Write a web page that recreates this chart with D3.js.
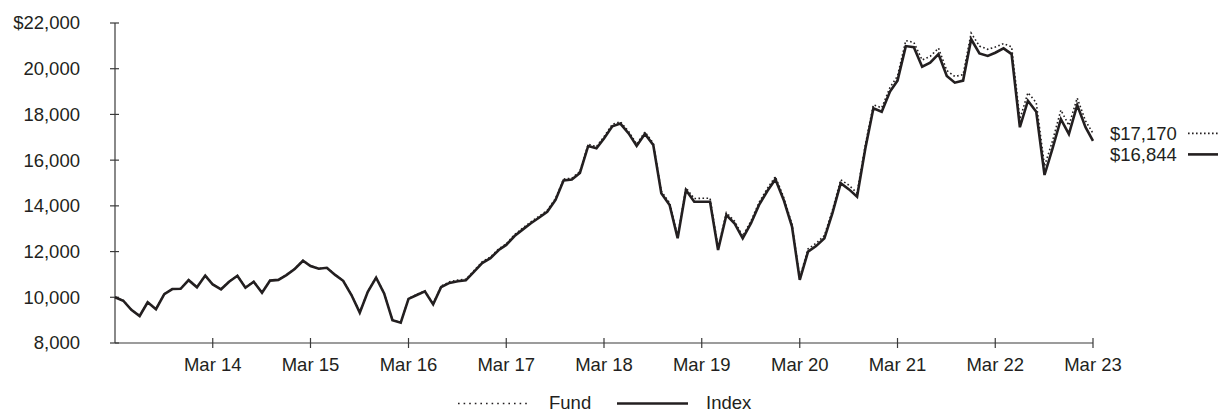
<!DOCTYPE html>
<html>
<head>
<meta charset="utf-8">
<script src="https://cdn.jsdelivr.net/npm/d3@7"></script>
<style>
  html, body { margin: 0; padding: 0; background: #fff; }
  svg text { font-family: "Liberation Sans", Arial, sans-serif; font-size: 18.5px; fill: #231f20; }
</style>
</head>
<body>
<svg id="chart" width="1219" height="413"></svg>
<script>
// ---- Data (monthly, Mar 2013 – Mar 2023) ----
const indexValues = [
  10000, 9850, 9450, 9180, 9780, 9480, 10140, 10360, 10370, 10750, 10440, 10950,
  10560, 10350, 10680, 10940, 10420, 10680, 10200, 10730, 10760, 10970, 11240, 11600,
  11370, 11250, 11290, 10980, 10720, 10100, 9330, 10240, 10860, 10170, 9000, 8890,
  9930, 10100, 10260, 9690, 10450, 10630, 10700, 10740, 11120, 11500, 11710, 12070,
  12290, 12680, 12960, 13240, 13480, 13740, 14260, 15110, 15150, 15440, 16620, 16520,
  16950, 17480, 17600, 17170, 16620, 17150, 16660, 14550, 14040, 12580, 14690, 14180,
  14180, 14180, 12070, 13600, 13240, 12580, 13240, 14040, 14650, 15160, 14260, 13090,
  10760, 12000, 12240, 12580, 13680, 14990, 14720, 14400, 16520, 18270, 18120, 19000,
  19480, 20990, 20940, 20090, 20260, 20640, 19680, 19390, 19480, 21290, 20670, 20560,
  20700, 20890, 20640, 17440, 18600, 18120, 15350, 16520, 17790, 17140, 18410, 17440,
  16844
];
const fundValues = [
  10000, 9860, 9460, 9190, 9790, 9490, 10150, 10370, 10380, 10760, 10450, 10960,
  10570, 10360, 10690, 10950, 10430, 10690, 10210, 10740, 10770, 10980, 11250, 11610,
  11380, 11260, 11300, 10990, 10730, 10110, 9340, 10250, 10870, 10180, 9010, 8900,
  9940, 10120, 10280, 9710, 10490, 10680, 10750, 10790, 11170, 11550, 11760, 12120,
  12340, 12740, 13020, 13300, 13540, 13800, 14320, 15170, 15210, 15500, 16690, 16590,
  17030, 17560, 17680, 17250, 16700, 17230, 16740, 14640, 14130, 12670, 14790, 14320,
  14330, 14330, 12170, 13700, 13340, 12680, 13340, 14150, 14760, 15280, 14370, 13200,
  10860, 12120, 12360, 12700, 13810, 15140, 14900, 14560, 16680, 18420, 18290, 19180,
  19680, 21230, 21150, 20380, 20540, 20900, 19920, 19660, 19740, 21560, 20990, 20850,
  20950, 21100, 20960, 17800, 18950, 18520, 15740, 16850, 18190, 17520, 18720, 17720,
  17170
];
const yTickValues = [8000, 10000, 12000, 14000, 16000, 18000, 20000, 22000];
const xTickYears = [2014, 2015, 2016, 2017, 2018, 2019, 2020, 2021, 2022, 2023];
const seriesNames = ["Fund", "Index"];
const endLabels = ["$17,170", "$16,844"];

(function () {
  const months = d3.utcMonth.range(new Date(Date.UTC(2013, 2, 1)), new Date(Date.UTC(2023, 2, 2)));
  const plotL = 115, plotR = 1093, plotT = 23, plotB = 343;
  const ink = "#231f20";
  const axisCol = "#3a3a3a";

  const svg = d3.select("#chart");
  const x = d3.scaleUtc().domain([months[0], months[months.length - 1]]).range([plotL, plotR]);
  const y = d3.scaleLinear().domain([8000, 22000]).range([plotB, plotT]);

  // Axis lines
  svg.append("line").attr("x1", plotL).attr("x2", plotL).attr("y1", plotT).attr("y2", plotB)
    .attr("stroke", axisCol).attr("stroke-width", 1.2);
  svg.append("line").attr("x1", plotL).attr("x2", plotR).attr("y1", plotB).attr("y2", plotB)
    .attr("stroke", axisCol).attr("stroke-width", 1.2);

  // Y ticks
  svg.selectAll(".ytick").data(yTickValues).enter().append("line")
    .attr("x1", plotL - 5).attr("x2", plotL + 4)
    .attr("y1", d => y(d)).attr("y2", d => y(d))
    .attr("stroke", axisCol).attr("stroke-width", 1.2);
  const fmt = d3.format(",");
  svg.selectAll(".ylabel").data(yTickValues).enter().append("text")
    .attr("x", 80).attr("y", d => y(d)).attr("dy", "0.35em")
    .attr("text-anchor", "end")
    .text(d => (d === 22000 ? "$" : "") + fmt(d));

  // X ticks
  const xTickDates = xTickYears.map(yr => new Date(Date.UTC(yr, 2, 1)));
  svg.selectAll(".xtick").data(xTickDates).enter().append("line")
    .attr("x1", d => x(d)).attr("x2", d => x(d))
    .attr("y1", plotB - 5).attr("y2", plotB + 5)
    .attr("stroke", axisCol).attr("stroke-width", 1.2);
  const xfmt = d3.utcFormat("%b %y");
  svg.selectAll(".xlabel").data(xTickDates).enter().append("text")
    .attr("x", d => x(d)).attr("y", 371)
    .attr("text-anchor", "middle")
    .text(d => xfmt(d));

  // Lines
  const line = d3.line().x((d, i) => x(months[i])).y(d => y(d));
  svg.append("path").datum(fundValues).attr("d", line)
    .attr("fill", "none").attr("stroke", ink).attr("stroke-width", 1.6)
    .attr("stroke-dasharray", "1.6,2.4");
  svg.append("path").datum(indexValues).attr("d", line)
    .attr("fill", "none").attr("stroke", ink).attr("stroke-width", 2.6)
    .attr("stroke-linejoin", "miter");

  // End labels
  const fundY = y(fundValues[fundValues.length - 1]);
  const idxY = Math.max(y(indexValues[indexValues.length - 1]), fundY + 21);
  const endYs = [fundY, idxY];
  svg.selectAll(".endlabel").data(endLabels).enter().append("text")
    .attr("x", 1110).attr("y", (d, i) => endYs[i]).attr("dy", "0.35em")
    .text(d => d);
  svg.append("line").attr("x1", 1188).attr("x2", 1218).attr("y1", fundY).attr("y2", fundY)
    .attr("stroke", ink).attr("stroke-width", 1.6).attr("stroke-dasharray", "1.6,2.4");
  svg.append("line").attr("x1", 1188).attr("x2", 1218).attr("y1", idxY).attr("y2", idxY)
    .attr("stroke", ink).attr("stroke-width", 2.6);

  // Legend
  const legY = 403.5;
  svg.append("line").attr("x1", 458).attr("x2", 527).attr("y1", legY).attr("y2", legY)
    .attr("stroke", ink).attr("stroke-width", 1.6).attr("stroke-dasharray", "1.6,4");
  svg.append("text").attr("x", 549).attr("y", 409).text(seriesNames[0]);
  svg.append("line").attr("x1", 617).attr("x2", 688).attr("y1", legY).attr("y2", legY)
    .attr("stroke", ink).attr("stroke-width", 2.6);
  svg.append("text").attr("x", 706).attr("y", 409).text(seriesNames[1]);
})();
</script>
</body>
</html>
